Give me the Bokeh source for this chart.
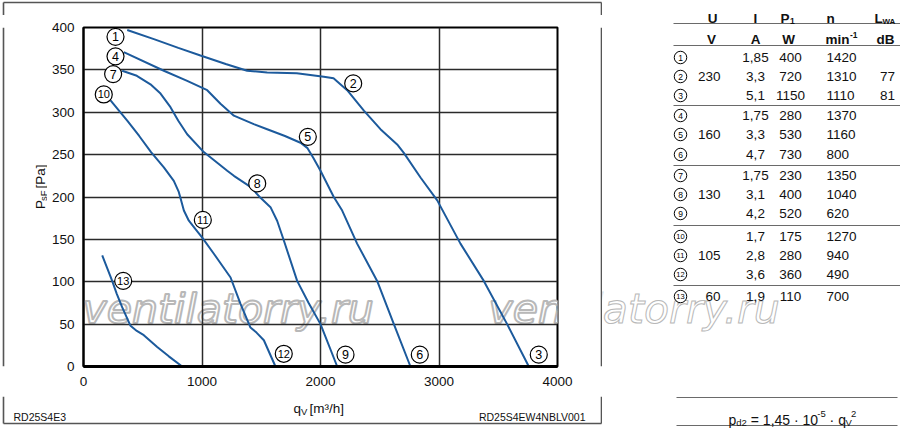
import math
from bokeh.plotting import figure
from bokeh.models import Range1d, FixedTicker, Label, ColumnDataSource
from bokeh.layouts import row, column
from bokeh.core.properties import value
from bokeh.embed import file_html
from bokeh.resources import INLINE

FONT = "Liberation Sans"
CURVE = "#1c5a9c"
FRAME = "#555555"

# ---------------- data ----------------
x_ticks = [0, 1000, 2000, 3000, 4000]
y_ticks = [0, 50, 100, 150, 200, 250, 300, 350, 400]
x_grid = [1000, 2000, 3000]
y_grid = [50, 100, 150, 200, 250, 300, 350]

# 230 V (points 1-2-3)
u230_q = [369, 600, 800, 987, 1200, 1381, 1550, 1800, 2028, 2110, 2225, 2366, 2506, 2647, 2703, 2844, 2985, 3181, 3378, 3575, 3758]
u230_p = [397, 386, 376, 367, 357, 349, 347, 346, 342, 340, 326, 302, 280, 262, 252, 223, 196, 145, 101, 50, 0]
# 160 V (points 4-5-6)
u160_q = [340, 678, 875, 1044, 1156, 1269, 1437, 1550, 1700, 1831, 1888, 1940, 2000, 2112, 2183, 2309, 2478, 2619, 2759]
u160_p = [371, 349, 337, 326, 310, 296, 286, 280, 272, 264, 258, 246, 231, 200, 184, 145, 101, 50, 0]
# 130 V (points 7-8-9)
u130_q = [326, 450, 565, 650, 734, 800, 875, 1015, 1213, 1269, 1409, 1494, 1578, 1634, 1690, 1803, 1900, 2000, 2141]
u130_p = [349, 343, 333, 322, 306, 290, 274, 253, 231, 225, 212, 199, 188, 172, 149, 101, 75, 50, 0]
# 105 V (points 10-11-12)
u105_q = [228, 369, 470, 570, 678, 762, 804, 824, 847, 889, 945, 1002, 1100, 1241, 1325, 1409, 1460, 1522, 1620]
u105_p = [314, 290, 272, 253, 235, 219, 206, 196, 184, 172, 162, 152, 133, 105, 74, 46, 40, 31, 0]
# 60 V (point 13)
u60_q = [158, 200, 242, 280, 326, 397, 450, 509, 622, 720, 833]
u60_p = [131, 116, 101, 86, 70, 48, 42, 37, 23, 12, 0]

curves = [(u230_q, u230_p), (u160_q, u160_p), (u130_q, u130_p), (u105_q, u105_p), (u60_q, u60_p)]

# operating point markers
pt_text = ["1", "2", "3", "4", "5", "6", "7", "8", "9", "10", "11", "12", "13"]
pt_q = [270, 2276, 3842, 270, 1893, 2838, 250, 1466, 2211, 171, 1007, 1690, 335]
pt_p = [389, 334, 14, 366, 271, 14, 345, 216, 14, 321, 173, 15, 101]

# table
tbl_no = ["1", "2", "3", "4", "5", "6", "7", "8", "9", "10", "11", "12", "13"]
tbl_U = ["", "230", "", "", "160", "", "", "130", "", "", "105", "", "60"]
tbl_I = ["1,85", "3,3", "5,1", "1,75", "3,3", "4,7", "1,75", "3,1", "4,2", "1,7", "2,8", "3,6", "1,9"]
tbl_P1 = ["400", "720", "1150", "280", "530", "730", "230", "400", "520", "175", "280", "360", "110"]
tbl_n = ["1420", "1310", "1110", "1370", "1160", "800", "1350", "1040", "620", "1270", "940", "490", "700"]
tbl_L = ["", "77", "81", "", "", "", "", "", "", "", "", "", ""]

WM_TEXT = "ventilatorry.ru"


def wm_label(fig, x, y, units):
    kw = dict(x=x, y=y, x_units=units, y_units=units, text=WM_TEXT,
              text_font="DejaVu Sans", text_font_style="italic", text_font_size="41px",
              text_align="left", text_baseline="alphabetic", level="image")
    try:
        lab = Label(text_color="white", text_outline_color="#b8b8b8", **kw)
    except Exception:
        lab = Label(text_color="#e6e6e6", **kw)
    fig.add_layout(lab)


def strip(x0, x1, y0, y1):
    f = figure(width=x1 - x0, height=y1 - y0, x_range=Range1d(x0, x1), y_range=Range1d(y1, y0),
               output_backend="svg", toolbar_location=None,
               x_axis_location=None, y_axis_location=None,
               min_border_left=0, min_border_right=0, min_border_top=0, min_border_bottom=0)
    f.grid.visible = False
    f.outline_line_color = None
    f.background_fill_color = "white"
    f.border_fill_color = "white"
    return f


# ---------------- geometry of the left panel (page pixels) ----------------
P_LEFT, P_RIGHT, P_TOP, P_BOTTOM = 47, 598, 15, 396
FR_L, FR_R, FR_T, FR_B = 83, 557, 27, 366

# ---------------- chart figure ----------------
p = figure(width=P_RIGHT - P_LEFT, height=P_BOTTOM - P_TOP,
           x_range=Range1d(0, 4000), y_range=Range1d(0, 400),
           output_backend="svg", toolbar_location=None,
           min_border_left=FR_L - P_LEFT, min_border_right=P_RIGHT - FR_R,
           min_border_top=FR_T - P_TOP, min_border_bottom=P_BOTTOM - FR_B)
p.background_fill_color = "white"
p.border_fill_color = "white"
p.outline_line_color = "black"
p.outline_line_width = 2

p.xaxis.ticker = FixedTicker(ticks=x_ticks)
p.yaxis.ticker = FixedTicker(ticks=y_ticks)
for ax in (p.xaxis[0], p.yaxis[0]):
    ax.major_tick_line_color = None
    ax.minor_tick_line_color = None
    ax.major_tick_out = 0
    ax.major_tick_in = 0
    ax.minor_tick_out = 0
    ax.axis_line_color = "black"
    ax.major_label_text_font = FONT
    ax.major_label_text_font_size = "13.5px"
    ax.major_label_text_color = "#111111"
p.xaxis.axis_line_width = 3
p.yaxis.axis_line_width = 2
p.xaxis.major_label_standoff = 10
p.yaxis.major_label_standoff = 9

p.xgrid.ticker = FixedTicker(ticks=x_grid)
p.ygrid.ticker = FixedTicker(ticks=y_grid)
p.grid.grid_line_color = "#2a2a2a"
p.grid.grid_line_width = 1.5

# watermark inside the frame (frame-relative screen units)
wm_label(p, 82 - FR_L, FR_B - 308, "screen")
wm_label(p, 488 - FR_L, FR_B - 308, "screen")

for q, ps in curves:
    p.line(q, ps, line_color=CURVE, line_width=2)

one = [i for i, t in enumerate(pt_text) if len(t) == 1]
two = [i for i, t in enumerate(pt_text) if len(t) == 2]
p.scatter(pt_q, pt_p, marker="circle", size=17, fill_color="white", line_color="black", line_width=1.2)
p.text([pt_q[i] for i in one], [pt_p[i] for i in one], text=[pt_text[i] for i in one],
       text_align="center", text_baseline="middle", text_font=value(FONT),
       text_font_size="12.5px", text_color="black")
p.text([pt_q[i] for i in two], [pt_p[i] for i in two], text=[pt_text[i] for i in two],
       text_align="center", text_baseline="middle", text_font=value(FONT),
       text_font_size="11px", text_color="black")

# ---------------- decoration strips around the chart ----------------
top = strip(0, 602, 0, P_TOP)
top.segment(x0=[3, 3, 601], y0=[2, 2, 2], x1=[601, 3, 601], y1=[2, P_TOP, P_TOP],
            line_color=FRAME, line_width=1.6)

lft = strip(0, P_LEFT, P_TOP, P_BOTTOM)
lft.segment(x0=[3], y0=[P_TOP], x1=[3], y1=[P_BOTTOM], line_color=FRAME, line_width=1.6)
ytxt = dict(angle=math.pi / 2, text_align="left", text_baseline="alphabetic",
            text_font=value(FONT), text_color="#111111")
lft.text(x=[40], y=[219], text=["P"], text_font_size="13.5px", **ytxt)
lft.text(x=[42.5], y=[210], text=["sF"], text_font_size="9.5px", **ytxt)
lft.text(x=[40], y=[196], text=["[Pa]"], text_font_size="13.5px", **ytxt)

rgt = strip(P_RIGHT, 602, P_TOP, P_BOTTOM)
rgt.segment(x0=[601], y0=[P_TOP], x1=[601], y1=[P_BOTTOM], line_color=FRAME, line_width=1.6)

bot = strip(0, 602, P_BOTTOM, 429)
bot.segment(x0=[3, 601, 3], y0=[P_BOTTOM, P_BOTTOM, 423], x1=[3, 601, 601], y1=[423, 423, 423],
            line_color=FRAME, line_width=1.6)
btxt = dict(text_baseline="alphabetic", text_font=value(FONT), text_color="#111111")
bot.text(x=[293], y=[408], text=["q"], text_align="left", text_font_size="13.5px", **btxt)
bot.text(x=[300.5], y=[411], text=["V"], text_align="left", text_font_size="9.5px", **btxt)
bot.text(x=[309], y=[408], text=["[m\u00b3/h]"], text_align="left", text_font_size="13.5px", **btxt)
bot.text(x=[13], y=[416], text=["RD25S4E3"], text_align="left", text_font_size="10.5px", **btxt)
bot.text(x=[585], y=[416], text=["RD25S4EW4NBLV001"], text_align="right", text_font_size="10.5px", **btxt)

# ---------------- table figure ----------------
t = strip(602, 900, 0, 429)
wm_label(t, 488, 308, "data")

row_y = [57, 76, 95, 115, 134, 154, 175, 194, 213, 236, 255, 274, 296]
sep_y = [23, 45, 105, 165, 225, 285]

t.segment(x0=[673] * len(sep_y), y0=sep_y, x1=[900] * len(sep_y), y1=sep_y,
          line_color="#6a6a6a", line_width=1.2)
t.segment(x0=[676, 676], y0=[397, 425], x1=[897, 897], y1=[397, 425], line_color="#6a6a6a", line_width=1.2)

src = ColumnDataSource(dict(y=row_y, no=tbl_no, U=tbl_U, I=tbl_I, P1=tbl_P1, n=tbl_n, L=tbl_L,
                            fs=["8.5px" if len(s) == 1 else "7.5px" for s in tbl_no]))
t.scatter(x=680, y="y", source=src, marker="circle", size=12.5, fill_color="white",
          line_color="black", line_width=1)
t.text(x=680, y="y", text="no", source=src, text_align="center", text_baseline="middle",
       text_font=value(FONT), text_font_size=dict(field="fs"), text_color="black")

cell = dict(text_baseline="middle", text_font=value(FONT), text_font_size="13.5px", text_color="#111111")
t.text(x=720, y="y", text="U", source=src, text_align="right", **cell)
t.text(x=755, y="y", text="I", source=src, text_align="center", **cell)
t.text(x=790, y="y", text="P1", source=src, text_align="center", **cell)
t.text(x=826, y="y", text="n", source=src, text_align="left", **cell)
t.text(x=887, y="y", text="L", source=src, text_align="center", **cell)

head = dict(text_font=value(FONT), text_font_style="bold", text_color="#111111", text_baseline="alphabetic")
hb = 18
ub = 39
t.text(x=[712, 755, 830], y=[hb] * 3, text=["U", "I", "n"], text_align="center", text_font_size="13.5px", **head)
t.text(x=[780], y=[hb], text=["P"], text_align="left", text_font_size="13.5px", **head)
t.text(x=[789.5], y=[hb + 2.5], text=["1"], text_align="left", text_font_size="8.5px", **head)
t.text(x=[874], y=[hb], text=["L"], text_align="left", text_font_size="13.5px", **head)
t.text(x=[882], y=[hb + 2.5], text=["WA"], text_align="left", text_font_size="8px", **head)
t.text(x=[711, 755, 788, 885], y=[ub] * 4, text=["V", "A", "W", "dB"], text_align="center",
       text_font_size="13.5px", **head)
t.text(x=[825], y=[ub], text=["min"], text_align="left", text_font_size="13.5px", **head)
t.text(x=[849.5], y=[ub - 5], text=["-1"], text_align="left", text_font_size="8.5px", **head)

# formula p_d2 = 1,45 . 10^-5 . qV^2  (no leading spaces: SVG collapses them)
fb = 419
form = dict(text_font=value(FONT), text_color="#111111", text_baseline="alphabetic", text_align="left")
t.text(x=[728], y=[fb], text=["p"], text_font_size="14px", **form)
t.text(x=[735.8], y=[fb + 3], text=["d2"], text_font_size="9.5px", **form)
t.text(x=[750.3], y=[fb], text=["= 1,45 \u00b7 10"], text_font_size="14px", **form)
t.text(x=[816.8], y=[fb - 6], text=["-5"], text_font_size="9.5px", **form)
t.text(x=[829.1], y=[fb], text=["\u00b7 q"], text_font_size="14px", **form)
t.text(x=[845], y=[fb + 3], text=["V"], text_font_size="9.5px", **form)
t.text(x=[850.5], y=[fb - 6], text=["2"], text_font_size="9.5px", **form)

left_panel = column(top, row(lft, p, rgt), bot)
layout = row(left_panel, t)
open("out.html", "w").write(file_html(layout, INLINE))
